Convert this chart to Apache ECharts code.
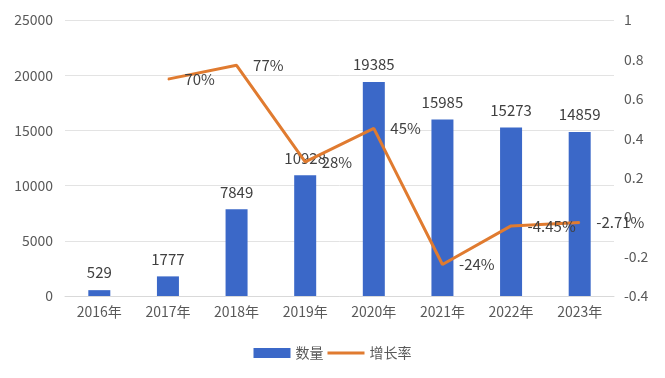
<!DOCTYPE html>
<html>
<head>
<meta charset="utf-8">
<script src="https://cdn.jsdelivr.net/npm/echarts@6/dist/echarts.min.js"></script>
<style>
  html, body { margin: 0; padding: 0; background: #fff; }
  #main { width: 665px; height: 378px; }
</style>
</head>
<body>
<div id="main"></div>
<script>
// 年份
var years = ['2016年', '2017年', '2018年', '2019年', '2020年', '2021年', '2022年', '2023年'];
// 数量
var counts = [529, 1777, 7849, 10928, 19385, 15985, 15273, 14859];
// 增长率 (2016 没有)
var rates = [null, 0.70, 0.77, 0.28, 0.45, -0.24, -0.0445, -0.0271];
var rateLabels = ['', '70%', '77%', '28%', '45%', '-24%', '-4.45%', '-2.71%'];

var font = '"Noto Sans CJK SC", "Noto Sans", sans-serif';

var myChart = echarts.init(document.getElementById('main'));
var option = {
    animation: false,
    textStyle: { fontFamily: font },
    grid: { left: 65, right: 51, top: 20, bottom: 82 },
    legend: {
        bottom: 13,
        left: 'center',
        itemGap: 4,
        textStyle: { fontSize: 14, color: '#595959' },
        data: [
            { name: '数量', icon: 'rect', itemStyle: { color: '#3b68c8' } },
            { name: '增长率', icon: 'path://M0,4 L40,4 L40,7 L0,7 Z', itemStyle: { color: '#e07b30' } }
        ],
        itemWidth: 37,
        itemHeight: 10
    },
    xAxis: {
        type: 'category',
        data: years,
        axisLine: { lineStyle: { color: '#d9d9d9' } },
        axisTick: { show: false },
        axisLabel: { color: '#595959', fontSize: 14, margin: 9 }
    },
    yAxis: [
        {
            type: 'value',
            min: 0, max: 25000, interval: 5000,
            axisLine: { show: false },
            axisTick: { show: false },
            axisLabel: {
                color: '#595959', fontSize: 14, margin: 12,
                formatter: function (v) { return String(v); }
            },
            splitLine: { lineStyle: { color: '#e3e3e3' } }
        },
        {
            type: 'value',
            min: -0.4, max: 1, interval: 0.2,
            axisLine: { show: false },
            axisTick: { show: false },
            axisLabel: {
                color: '#595959', fontSize: 14, margin: 10,
                formatter: function (v) { return String(Math.round(v * 10) / 10); }
            },
            splitLine: { show: false }
        }
    ],
    series: [
        {
            name: '数量',
            type: 'bar',
            data: counts,
            barWidth: 22,
            itemStyle: { color: '#3b68c8' },
            label: { show: true, position: 'top', distance: 10, color: '#404040', fontSize: 15 }
        },
        {
            name: '增长率',
            type: 'line',
            yAxisIndex: 1,
            data: rates,
            showSymbol: true,
            symbol: 'circle',
            symbolSize: 1,
            lineStyle: { color: '#e07b30', width: 3 },
            itemStyle: { color: '#e07b30' },
            label: {
                show: true,
                position: 'right',
                distance: 16,
                color: '#404040',
                fontSize: 15,
                formatter: function (p) { return rateLabels[p.dataIndex]; }
            }
        }
    ]
};
myChart.setOption(option);
</script>
</body>
</html>
